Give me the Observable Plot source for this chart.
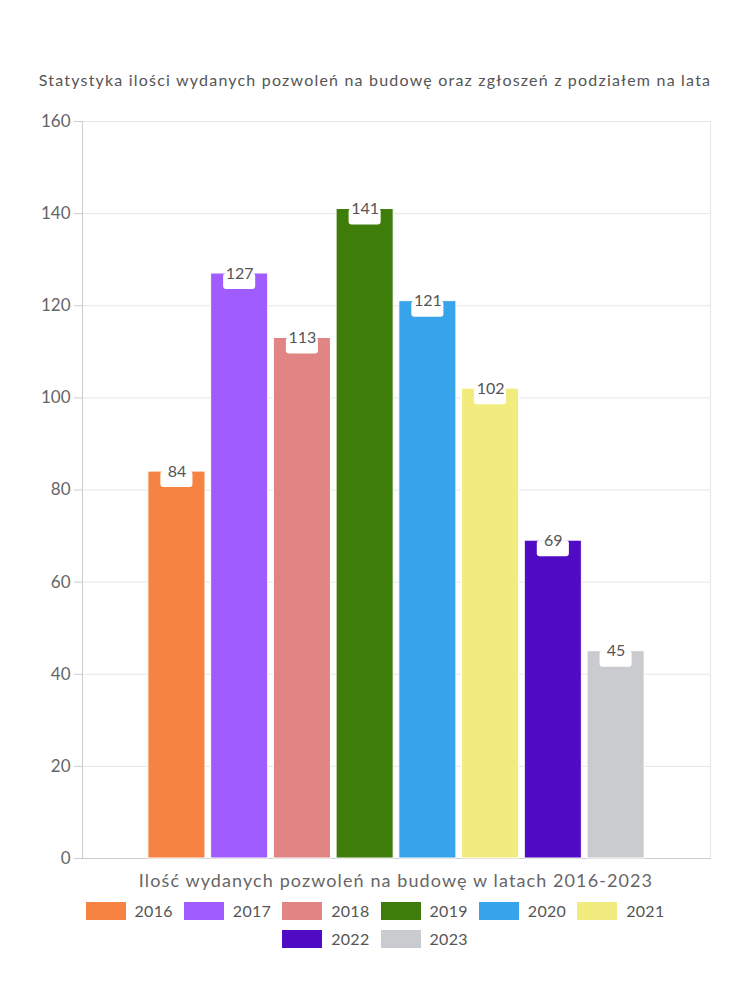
<!DOCTYPE html>
<html><head><meta charset="utf-8">
<script src="https://cdn.jsdelivr.net/npm/d3@7"></script>
<script src="https://cdn.jsdelivr.net/npm/@observablehq/plot@0.6"></script>
<style>
body{margin:0;background:#fff;font-family:Lato,"Noto Sans",sans-serif;color:#666;}
#wrap{width:750px;height:1000px;position:relative;}
#title{position:absolute;top:70px;left:0;width:750px;text-align:center;font-size:16px;line-height:20px;letter-spacing:1.2px;color:#555;}
#chart{position:absolute;top:90px;left:0;}
#xlabel{position:absolute;top:869px;left:82px;width:628px;text-align:center;font-size:18px;line-height:22px;letter-spacing:1.1px;color:#666;}
#legend{position:absolute;top:902px;left:80px;width:590px;display:flex;flex-wrap:wrap;justify-content:center;row-gap:10px;}
.item{display:flex;align-items:center;margin:0 5.5px;font-size:16px;line-height:18px;letter-spacing:0.3px;color:#555;}
.sw{width:40px;height:18px;margin-right:9px;}
</style></head>
<body><div id="wrap">
<div id="title"></div>
<div id="chart"></div>
<div id="xlabel"></div>
<div id="legend"></div>
</div>
<script>
const years = ["2016","2017","2018","2019","2020","2021","2022","2023"];
const values = [84,127,113,141,121,102,69,45];
const colors = ["#F68341","#A15CFF","#E08484","#3F7D0B","#37A3EB","#F1EC7D","#500BC4","#CACBCF"];
const yTicks = [0,20,40,60,80,100,120,140,160];
const titleText = "Statystyka ilości wydanych pozwoleń na budowę oraz zgłoszeń z podziałem na lata";
const xTitle = "Ilość wydanych pozwoleń na budowę w latach 2016-2023";

document.getElementById("title").textContent = titleText;
document.getElementById("xlabel").textContent = xTitle;

const data = years.map((y,i)=>({year:y, value:values[i]}));

const chart = Plot.plot({
  width: 750,
  height: 780,
  marginTop: 31,
  marginBottom: 12,
  marginLeft: 82,
  marginRight: 40,
  style: {fontFamily: "Lato, 'Noto Sans', sans-serif", fontSize: "16px", color: "#666", background: "transparent"},
  x: {domain: years, paddingInner: 0.09, paddingOuter: 1.05, round: false, axis: null},
  y: {domain: [0,160], ticks: yTicks, label: null},
  color: {domain: years, range: colors},
  marks: [
    Plot.gridY(yTicks, {stroke: "#e6e6e6", strokeOpacity: 1}),
    Plot.frame({stroke: "#e6e6e6"}),
    Plot.frame({anchor: "left", stroke: "#ccc"}),
    Plot.frame({anchor: "bottom", stroke: "#ccc"}),
    Plot.axisY(yTicks, {tickSize: 8, tickPadding: 4, stroke: "#ccc", fill: "#666", fontSize: 17, label: null}),
    Plot.barY(data, {x: "year", y: "value", fill: "year", stroke: "white", strokeWidth: 1}),
    Plot.barY(data, {x: "year", y1: "value", y2: "value", fill: "white", insetLeft: 12.5, insetRight: 12.5, insetBottom: -16, rx: 3}),
    Plot.text(data, {x: "year", y: "value", text: d => String(d.value), fill: "#555", fontSize: 16, lineAnchor: "middle", textAnchor: "middle"})
  ]
});
document.getElementById("chart").appendChild(chart);

const leg = document.getElementById("legend");
years.forEach((y,i)=>{
  const it = document.createElement("div"); it.className="item";
  const sw = document.createElement("div"); sw.className="sw"; sw.style.background=colors[i];
  const lb = document.createElement("span"); lb.textContent=y;
  it.appendChild(sw); it.appendChild(lb); leg.appendChild(it);
});
</script>
</body></html>
